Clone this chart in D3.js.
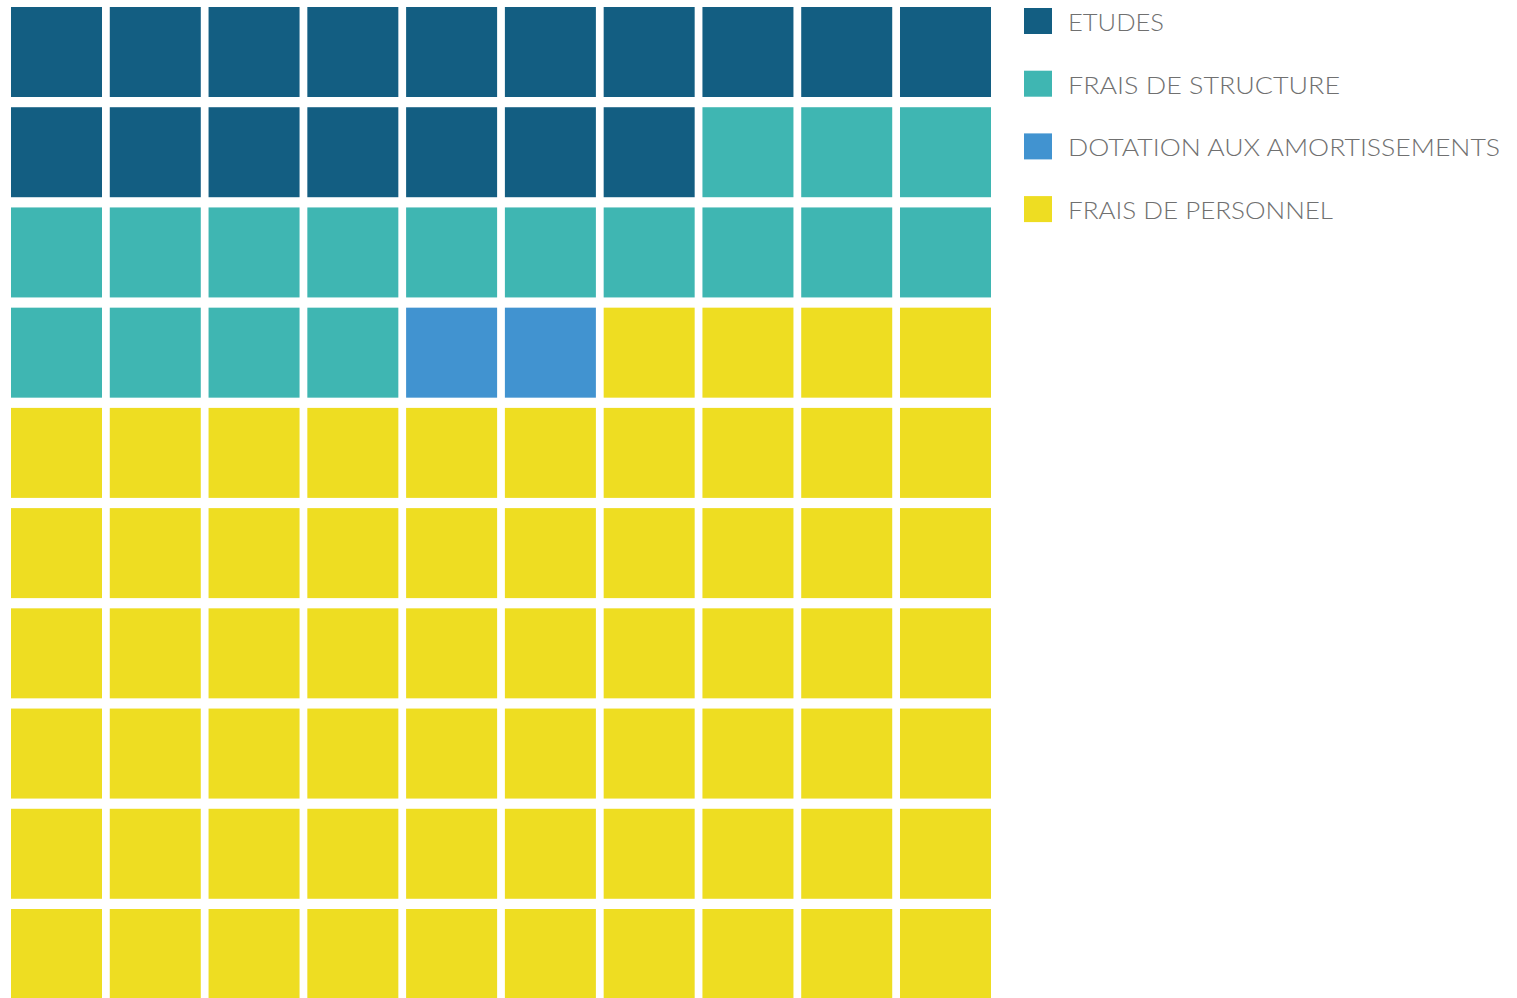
<!DOCTYPE html>
<html><head><meta charset="utf-8">
<script src="https://cdn.jsdelivr.net/npm/d3@7"></script>
<style>body{margin:0;background:#fff;overflow:hidden}</style>
</head><body>
<svg id="c" width="1517" height="998"></svg>
<script>
const categories = ["ETUDES", "FRAIS DE STRUCTURE", "DOTATION AUX AMORTISSEMENTS", "FRAIS DE PERSONNEL"];
const counts = [17, 17, 2, 64];
const colors = ["#135e82", "#3fb6b2", "#4193d0", "#eedd22"];
const cols = d3.range(10), rows = d3.range(10);

const cells = [];
categories.forEach((c, i) => { for (let k = 0; k < counts[i]; k++) cells.push(c); });

const svg = d3.select("#c");
const x = d3.scaleBand().domain(cols).range([11, 991]).paddingInner(0.0787).paddingOuter(0);
const y = d3.scaleBand().domain(rows).range([7, 999]).paddingInner(0.102).paddingOuter(0);
const color = d3.scaleOrdinal().domain(categories).range(colors);

svg.selectAll("rect.cell").data(cells).join("rect").attr("class", "cell")
  .attr("x", (d, i) => x(i % 10)).attr("y", (d, i) => y(Math.floor(i / 10)))
  .attr("width", x.bandwidth()).attr("height", y.bandwidth())
  .attr("fill", d => color(d));

const widths = [96, 272, 432, 265];
const lg = svg.append("g");
categories.forEach((c, i) => {
  const cy = 21 + i * 62.7;
  lg.append("rect").attr("x", 1024).attr("y", cy - 13).attr("width", 28).attr("height", 26).attr("fill", color(c));
  lg.append("text").attr("x", 1068).attr("y", cy + 10).text(c)
    .attr("font-family", "Lato, 'Open Sans', sans-serif").attr("font-weight", 300)
    .attr("font-size", 24).attr("fill", "#707070")
    .attr("textLength", widths[i]).attr("lengthAdjust", "spacingAndGlyphs");
});
</script>
</body></html>
